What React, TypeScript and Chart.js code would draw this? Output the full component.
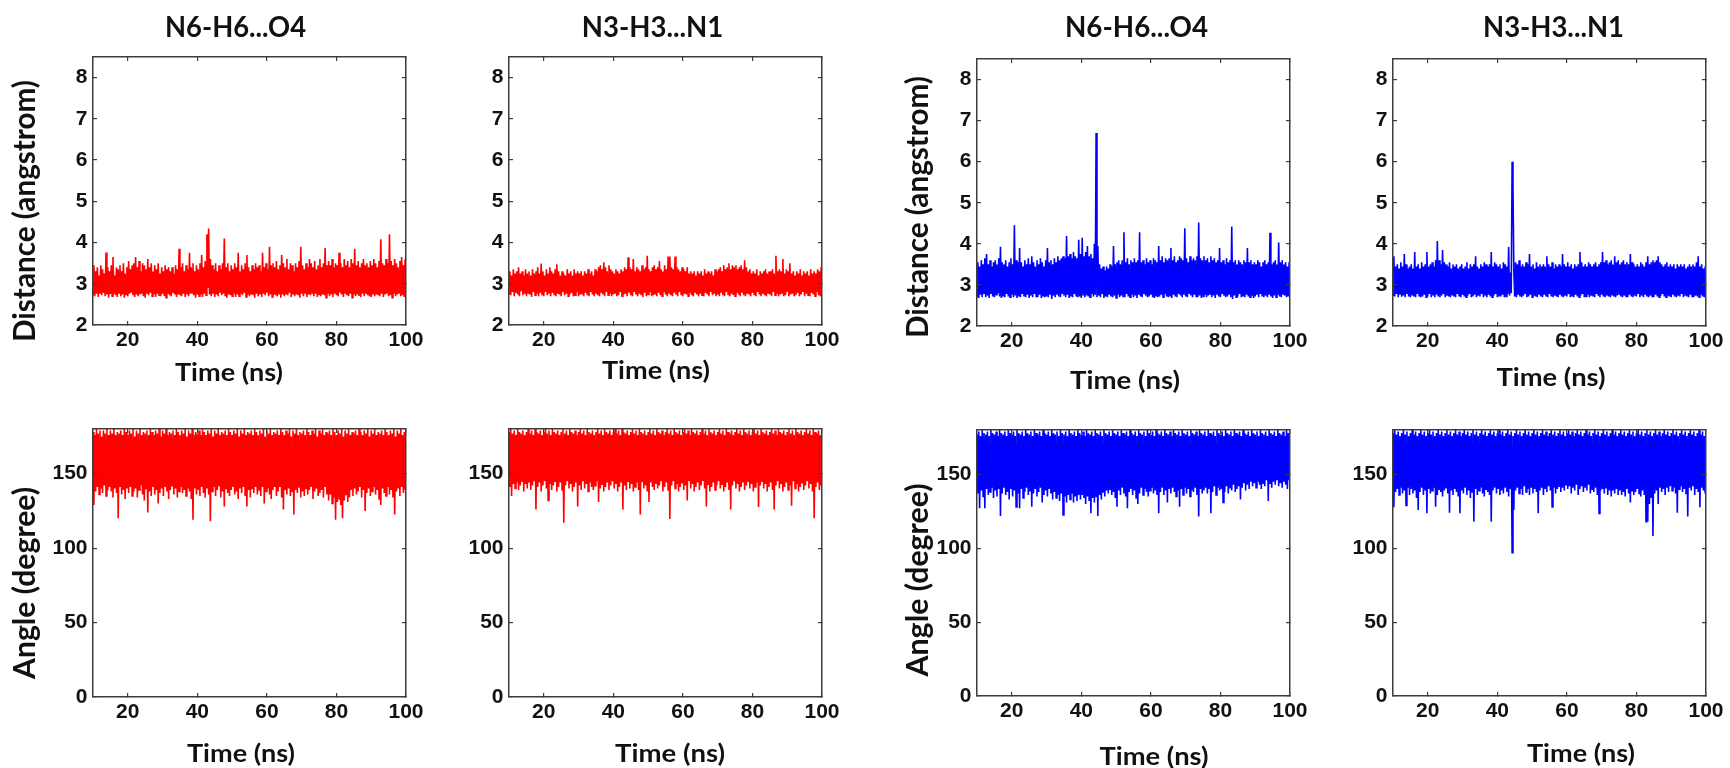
import React, { useEffect, useRef } from 'react';
import { Chart, registerables } from 'chart.js';

Chart.register(...registerables);

// ---------- data ----------
const T_START = 10; // ns, first sample
const T_STEP = 0.25; // ns between samples
const X_TICKS = [20, 40, 60, 80, 100];
const DIST_TICKS = [2, 3, 4, 5, 6, 7, 8];
const ANGLE_TICKS = [0, 50, 100, 150];

const TITLE_N6 = 'N6-H6...O4';
const TITLE_N3 = 'N3-H3...N1';
const X_LABEL = 'Time (ns)';
const DIST_LABEL = 'Distance (angstrom)';
const ANGLE_LABEL = 'Angle (degree)';

// Distance (angstrom), red system, N6-H6...O4
const DIST_RED_N6 = [
  2.74, 3.45, 2.7, 3.3, 2.76, 3.4, 2.68, 3.2, 2.76, 3.45,
  2.72, 3.35, 2.78, 3.25, 2.7, 3.76, 2.74, 3.4, 2.66, 3.3,
  2.75, 3.45, 2.7, 3.65, 2.76, 3.2, 2.72, 3.4, 2.68, 3.35,
  2.78, 3.45, 2.7, 3.3, 2.74, 3.5, 2.66, 3.25, 2.74, 3.4,
  2.7, 3.55, 2.76, 3.35, 2.78, 3.45, 2.72, 3.5, 2.68, 3.65,
  2.74, 3.4, 2.7, 3.55, 2.74, 3.3, 2.76, 3.5, 2.7, 3.45,
  2.66, 3.35, 2.76, 3.6, 2.72, 3.4, 2.78, 3.5, 2.7, 3.3,
  2.74, 3.45, 2.68, 3.35, 2.76, 3.5, 2.72, 3.25, 2.7, 3.4,
  2.76, 3.3, 2.7, 3.45, 2.66, 3.35, 2.76, 3.4, 2.72, 3.3,
  2.7, 3.4, 2.78, 3.25, 2.74, 3.45, 2.68, 3.35, 2.74, 3.85,
  2.72, 3.4, 2.7, 3.5, 2.76, 3.3, 2.68, 3.45, 2.74, 3.35,
  2.7, 3.75, 2.76, 3.4, 2.78, 3.5, 2.72, 3.3, 2.66, 3.45,
  2.74, 3.35, 2.7, 3.5, 2.74, 3.7, 2.68, 3.4, 2.76, 3.55,
  2.72, 4.2, 2.9, 4.34, 2.74, 3.6, 2.7, 3.45, 2.76, 3.35,
  2.68, 3.5, 2.74, 3.3, 2.7, 3.45, 2.78, 3.35, 2.72, 3.5,
  2.76, 4.1, 2.7, 3.4, 2.66, 3.5, 2.74, 3.3, 2.72, 3.45,
  2.7, 3.35, 2.76, 3.5, 2.68, 3.4, 2.74, 3.75, 2.7, 3.3,
  2.76, 3.45, 2.72, 3.35, 2.78, 3.5, 2.68, 3.7, 2.74, 3.4,
  2.7, 3.3, 2.74, 3.45, 2.72, 3.35, 2.66, 3.5, 2.76, 3.4,
  2.7, 3.45, 2.74, 3.3, 2.68, 3.75, 2.76, 3.4, 2.72, 3.5,
  2.78, 3.35, 2.7, 3.9, 2.74, 3.45, 2.68, 3.5, 2.74, 3.4,
  2.72, 3.55, 2.7, 3.35, 2.76, 3.45, 2.66, 3.7, 2.74, 3.5,
  2.7, 3.4, 2.76, 3.6, 2.72, 3.35, 2.78, 3.5, 2.68, 3.45,
  2.74, 3.3, 2.7, 3.5, 2.74, 3.4, 2.72, 3.55, 2.66, 3.9,
  2.76, 3.45, 2.7, 3.35, 2.76, 3.5, 2.68, 3.4, 2.74, 3.6,
  2.72, 3.5, 2.78, 3.4, 2.7, 3.55, 2.76, 3.35, 2.68, 3.45,
  2.74, 3.6, 2.7, 3.4, 2.74, 3.5, 2.72, 3.87, 2.66, 3.45,
  2.76, 3.55, 2.7, 3.45, 2.74, 3.6, 2.68, 3.4, 2.76, 3.5,
  2.72, 3.45, 2.7, 3.75, 2.78, 3.5, 2.74, 3.4, 2.68, 3.6,
  2.76, 3.45, 2.72, 3.55, 2.7, 3.4, 2.76, 3.6, 2.66, 3.5,
  2.74, 3.85, 2.7, 3.45, 2.74, 3.55, 2.72, 3.4, 2.68, 3.5,
  2.76, 3.6, 2.7, 3.45, 2.78, 3.5, 2.72, 3.4, 2.7, 3.55,
  2.68, 3.45, 2.74, 3.6, 2.7, 3.5, 2.74, 3.4, 2.72, 3.55,
  2.7, 4.08, 2.76, 3.5, 2.68, 3.45, 2.74, 3.6, 2.76, 3.5,
  2.7, 4.2, 2.72, 3.55, 2.66, 3.45, 2.76, 3.6, 2.7, 3.5,
  2.74, 3.4, 2.78, 3.55, 2.7, 3.65, 2.72, 3.45, 2.68, 3.6,
  2.75,
];

// Distance (angstrom), red system, N3-H3...N1
const DIST_RED_N3 = [
  2.76, 3.3, 2.72, 3.2, 2.8, 3.35, 2.7, 3.25, 2.78, 3.3,
  2.74, 3.4, 2.7, 3.25, 2.82, 3.3, 2.72, 3.2, 2.76, 3.35,
  2.7, 3.25, 2.78, 3.3, 2.74, 3.2, 2.68, 3.35, 2.8, 3.25,
  2.72, 3.3, 2.76, 3.4, 2.7, 3.25, 2.78, 3.49, 2.74, 3.3,
  2.7, 3.2, 2.8, 3.35, 2.72, 3.25, 2.76, 3.4, 2.7, 3.3,
  2.78, 3.25, 2.72, 3.35, 2.7, 3.47, 2.76, 3.3, 2.74, 3.2,
  2.7, 3.3, 2.8, 3.25, 2.72, 3.2, 2.76, 3.35, 2.7, 3.25,
  2.74, 3.3, 2.78, 3.2, 2.7, 3.35, 2.72, 3.25, 2.8, 3.3,
  2.7, 3.25, 2.74, 3.3, 2.76, 3.2, 2.7, 3.3, 2.78, 3.25,
  2.72, 3.35, 2.7, 3.25, 2.8, 3.3, 2.74, 3.2, 2.7, 3.35,
  2.76, 3.3, 2.72, 3.4, 2.7, 3.45, 2.78, 3.35, 2.74, 3.52,
  2.7, 3.4, 2.8, 3.3, 2.72, 3.45, 2.76, 3.35, 2.7, 3.3,
  2.74, 3.25, 2.78, 3.35, 2.7, 3.3, 2.72, 3.25, 2.8, 3.35,
  2.7, 3.3, 2.74, 3.4, 2.76, 3.35, 2.7, 3.64, 2.78, 3.4,
  2.72, 3.35, 2.7, 3.6, 2.8, 3.3, 2.74, 3.4, 2.7, 3.35,
  2.76, 3.3, 2.72, 3.45, 2.68, 3.35, 2.78, 3.4, 2.7, 3.68,
  2.74, 3.35, 2.8, 3.3, 2.7, 3.4, 2.72, 3.45, 2.76, 3.35,
  2.7, 3.4, 2.78, 3.55, 2.72, 3.35, 2.7, 3.3, 2.8, 3.45,
  2.74, 3.35, 2.7, 3.66, 2.76, 3.66, 2.72, 3.4, 2.7, 3.35,
  2.78, 3.66, 2.74, 3.4, 2.7, 3.35, 2.8, 3.3, 2.72, 3.4,
  2.7, 3.35, 2.76, 3.3, 2.74, 3.4, 2.7, 3.25, 2.78, 3.3,
  2.72, 3.25, 2.7, 3.3, 2.8, 3.2, 2.74, 3.3, 2.7, 3.25,
  2.76, 3.3, 2.72, 3.2, 2.7, 3.35, 2.78, 3.25, 2.74, 3.3,
  2.7, 3.25, 2.8, 3.3, 2.72, 3.2, 2.76, 3.35, 2.7, 3.3,
  2.74, 3.35, 2.7, 3.4, 2.78, 3.3, 2.72, 3.45, 2.7, 3.35,
  2.8, 3.4, 2.74, 3.5, 2.7, 3.35, 2.76, 3.45, 2.72, 3.4,
  2.7, 3.45, 2.78, 3.35, 2.74, 3.4, 2.7, 3.45, 2.8, 3.35,
  2.72, 3.57, 2.7, 3.4, 2.76, 3.3, 2.74, 3.35, 2.7, 3.25,
  2.78, 3.3, 2.72, 3.25, 2.7, 3.35, 2.8, 3.2, 2.74, 3.3,
  2.7, 3.25, 2.76, 3.3, 2.72, 3.35, 2.7, 3.25, 2.78, 3.3,
  2.74, 3.3, 2.7, 3.35, 2.8, 3.25, 2.72, 3.68, 2.76, 3.3,
  2.7, 3.35, 2.74, 3.3, 2.78, 3.6, 2.7, 3.25, 2.72, 3.35,
  2.8, 3.3, 2.7, 3.5, 2.74, 3.25, 2.76, 3.3, 2.7, 3.2,
  2.72, 3.3, 2.78, 3.25, 2.7, 3.35, 2.74, 3.2, 2.8, 3.3,
  2.7, 3.25, 2.76, 3.3, 2.72, 3.2, 2.7, 3.35, 2.78, 3.25,
  2.74, 3.3, 2.7, 3.25, 2.8, 3.35, 2.72, 3.3, 2.7, 3.4,
  2.76,
];

// Distance (angstrom), blue system, N6-H6...O4
const DIST_BLUE_N6 = [
  2.72, 3.55, 2.68, 3.45, 2.76, 3.6, 2.7, 3.5, 2.78, 3.65,
  2.7, 3.75, 2.74, 3.5, 2.68, 3.6, 2.78, 3.45, 2.72, 3.55,
  2.7, 3.6, 2.76, 3.5, 2.8, 3.65, 2.72, 3.93, 2.68, 3.55,
  2.74, 3.5, 2.7, 3.6, 2.78, 3.45, 2.72, 3.55, 2.7, 3.65,
  2.76, 3.5, 2.7, 4.45, 2.74, 3.6, 2.68, 3.55, 2.72, 3.9,
  2.7, 3.55, 2.78, 3.45, 2.72, 3.6, 2.7, 3.5, 2.76, 3.65,
  2.68, 3.5, 2.74, 3.7, 2.7, 3.55, 2.78, 3.45, 2.72, 3.6,
  2.7, 3.5, 2.76, 3.65, 2.68, 3.55, 2.74, 3.45, 2.7, 3.6,
  2.72, 3.9, 2.7, 3.55, 2.78, 3.6, 2.66, 3.5, 2.74, 3.65,
  2.7, 3.55, 2.76, 3.7, 2.72, 3.6, 2.7, 3.65, 2.78, 3.7,
  2.74, 3.65, 2.7, 4.19, 2.76, 3.7, 2.68, 3.75, 2.72, 3.65,
  2.7, 3.8, 2.78, 3.7, 2.74, 3.65, 2.7, 4.1, 2.72, 3.75,
  2.68, 4.15, 2.76, 3.7, 2.7, 3.8, 2.74, 3.95, 2.72, 3.7,
  2.7, 3.75, 2.78, 3.65, 2.72, 4.0, 2.76, 6.7, 2.7, 3.95,
  2.74, 3.5, 2.7, 3.4, 2.78, 3.45, 2.68, 3.35, 2.72, 3.45,
  2.7, 3.4, 2.76, 3.5, 2.72, 3.45, 2.7, 3.95, 2.74, 3.5,
  2.68, 3.55, 2.76, 3.6, 2.7, 3.5, 2.74, 3.6, 2.72, 4.28,
  2.7, 3.55, 2.78, 3.65, 2.72, 3.5, 2.7, 3.6, 2.76, 3.55,
  2.7, 3.65, 2.74, 3.55, 2.68, 3.6, 2.76, 4.28, 2.72, 3.55,
  2.7, 3.6, 2.78, 3.5, 2.74, 3.65, 2.7, 3.55, 2.72, 3.6,
  2.76, 3.5, 2.7, 3.65, 2.68, 3.6, 2.74, 3.55, 2.7, 3.95,
  2.72, 3.6, 2.76, 3.7, 2.7, 3.55, 2.78, 3.65, 2.72, 3.6,
  2.7, 3.65, 2.74, 3.9, 2.68, 3.6, 2.76, 3.7, 2.72, 3.55,
  2.7, 3.6, 2.78, 3.7, 2.74, 3.65, 2.7, 3.6, 2.76, 4.38,
  2.72, 3.65, 2.7, 3.55, 2.78, 3.7, 2.74, 3.6, 2.7, 3.65,
  2.76, 3.6, 2.72, 3.7, 2.7, 4.52, 2.74, 3.65, 2.68, 3.6,
  2.72, 3.7, 2.76, 3.6, 2.7, 3.65, 2.74, 3.55, 2.78, 3.7,
  2.7, 3.6, 2.74, 3.65, 2.68, 3.55, 2.76, 3.6, 2.72, 3.9,
  2.7, 3.55, 2.78, 3.6, 2.74, 3.5, 2.7, 3.65, 2.72, 3.55,
  2.76, 3.6, 2.7, 4.42, 2.66, 3.55, 2.74, 3.6, 2.7, 3.5,
  2.72, 3.6, 2.78, 3.55, 2.7, 3.5, 2.74, 3.6, 2.7, 3.55,
  2.76, 3.9, 2.72, 3.55, 2.7, 3.6, 2.74, 3.5, 2.68, 3.55,
  2.72, 3.5, 2.76, 3.6, 2.7, 3.55, 2.78, 3.45, 2.72, 3.55,
  2.7, 3.6, 2.74, 3.5, 2.7, 3.55, 2.76, 4.27, 2.72, 3.5,
  2.68, 3.55, 2.74, 3.6, 2.7, 3.5, 2.76, 4.03, 2.72, 3.55,
  2.7, 3.6, 2.78, 3.5, 2.74, 3.55, 2.7, 3.45, 2.72, 3.55,
  2.74,
];

// Distance (angstrom), blue system, N3-H3...N1
const DIST_BLUE_N3 = [
  2.75, 3.7, 2.72, 3.45, 2.78, 3.5, 2.7, 3.4, 2.76, 3.55,
  2.71, 3.45, 2.74, 3.75, 2.7, 3.5, 2.78, 3.4, 2.72, 3.45,
  2.7, 3.5, 2.76, 3.4, 2.72, 3.8, 2.7, 3.45, 2.78, 3.5,
  2.74, 3.4, 2.7, 3.55, 2.72, 3.45, 2.76, 3.5, 2.7, 3.8,
  2.72, 3.45, 2.78, 3.5, 2.7, 3.55, 2.74, 3.45, 2.7, 3.6,
  2.76, 4.07, 2.72, 3.6, 2.7, 3.5, 2.74, 3.85, 2.78, 3.55,
  2.7, 3.5, 2.74, 3.45, 2.72, 3.55, 2.7, 3.4, 2.76, 3.5,
  2.72, 3.45, 2.7, 3.5, 2.78, 3.4, 2.74, 3.45, 2.7, 3.5,
  2.76, 3.4, 2.72, 3.45, 2.7, 3.55, 2.74, 3.4, 2.78, 3.5,
  2.7, 3.45, 2.72, 3.5, 2.76, 3.7, 2.7, 3.45, 2.74, 3.4,
  2.72, 3.5, 2.78, 3.45, 2.7, 3.55, 2.74, 3.5, 2.7, 3.45,
  2.76, 3.5, 2.72, 3.8, 2.7, 3.45, 2.74, 3.55, 2.78, 3.5,
  2.7, 3.45, 2.74, 3.5, 2.72, 3.4, 2.76, 3.55, 2.7, 3.5,
  2.72, 3.45, 2.78, 3.92, 2.74, 3.3, 2.8, 6.0, 5.4, 3.3,
  2.72, 3.55, 2.7, 3.5, 2.76, 3.6, 2.72, 3.45, 2.7, 3.5,
  2.74, 3.45, 2.78, 3.55, 2.7, 3.5, 2.72, 3.75, 2.76, 3.45,
  2.7, 3.5, 2.74, 3.4, 2.72, 3.55, 2.7, 3.45, 2.78, 3.5,
  2.72, 3.45, 2.7, 3.5, 2.76, 3.45, 2.74, 3.7, 2.7, 3.5,
  2.78, 3.45, 2.72, 3.55, 2.7, 3.4, 2.74, 3.5, 2.72, 3.45,
  2.7, 3.5, 2.76, 3.45, 2.72, 3.75, 2.7, 3.5, 2.74, 3.45,
  2.72, 3.55, 2.78, 3.45, 2.7, 3.5, 2.74, 3.4, 2.7, 3.5,
  2.76, 3.45, 2.72, 3.5, 2.7, 3.8, 2.74, 3.55, 2.78, 3.45,
  2.7, 3.5, 2.72, 3.45, 2.76, 3.55, 2.7, 3.5, 2.74, 3.45,
  2.72, 3.5, 2.7, 3.55, 2.78, 3.45, 2.74, 3.5, 2.7, 3.55,
  2.76, 3.8, 2.72, 3.55, 2.7, 3.6, 2.74, 3.5, 2.72, 3.55,
  2.7, 3.6, 2.76, 3.5, 2.72, 3.7, 2.7, 3.55, 2.74, 3.6,
  2.78, 3.5, 2.72, 3.55, 2.7, 3.6, 2.74, 3.5, 2.72, 3.55,
  2.7, 3.5, 2.76, 3.75, 2.72, 3.55, 2.7, 3.5, 2.74, 3.45,
  2.72, 3.5, 2.78, 3.45, 2.7, 3.55, 2.74, 3.5, 2.7, 3.45,
  2.76, 3.55, 2.72, 3.7, 2.7, 3.5, 2.74, 3.55, 2.72, 3.6,
  2.7, 3.55, 2.76, 3.6, 2.72, 3.7, 2.7, 3.55, 2.74, 3.5,
  2.78, 3.45, 2.72, 3.5, 2.7, 3.55, 2.74, 3.45, 2.72, 3.5,
  2.7, 3.45, 2.76, 3.5, 2.72, 3.4, 2.7, 3.5, 2.74, 3.45,
  2.72, 3.5, 2.78, 3.45, 2.7, 3.5, 2.74, 3.4, 2.72, 3.45,
  2.7, 3.5, 2.76, 3.45, 2.72, 3.5, 2.7, 3.45, 2.74, 3.55,
  2.72, 3.7, 2.7, 3.45, 2.76, 3.5, 2.72, 3.4, 2.7, 3.45,
  2.74,
];

// Angle (degree), red system, N6-H6...O4
const ANGLE_RED_N6 = [
  178, 129, 176, 138, 180, 141, 177, 136, 179, 140,
  175, 137, 179, 142, 177, 135, 180, 139, 176, 141,
  179, 138, 177, 134, 180, 140, 176, 137, 178, 120,
  177, 141, 179, 136, 176, 139, 180, 133, 178, 140,
  176, 137, 179, 141, 177, 135, 180, 138, 175, 140,
  179, 134, 177, 139, 180, 142, 176, 136, 178, 132,
  177, 140, 179, 124, 176, 138, 180, 135, 178, 141,
  176, 136, 179, 139, 177, 130, 180, 137, 175, 140,
  179, 135, 177, 141, 180, 138, 176, 133, 178, 139,
  177, 142, 179, 136, 176, 140, 180, 134, 178, 138,
  176, 141, 179, 137, 177, 139, 180, 135, 175, 140,
  179, 138, 177, 133, 180, 119, 176, 140, 178, 136,
  177, 139, 179, 135, 176, 141, 180, 137, 178, 134,
  176, 140, 179, 136, 177, 118, 180, 138, 175, 141,
  179, 135, 177, 139, 180, 142, 176, 134, 178, 138,
  177, 128, 179, 140, 176, 137, 180, 135, 178, 139,
  176, 141, 179, 136, 177, 138, 180, 133, 175, 140,
  179, 137, 177, 141, 180, 135, 176, 128, 178, 139,
  177, 134, 179, 140, 176, 137, 180, 141, 178, 136,
  176, 139, 179, 135, 177, 141, 180, 130, 175, 138,
  179, 140, 177, 136, 180, 133, 176, 139, 178, 141,
  177, 135, 179, 138, 176, 141, 180, 134, 178, 126,
  176, 139, 179, 136, 177, 140, 180, 135, 175, 138,
  179, 122.5, 177, 139, 180, 137, 176, 141, 178, 134,
  177, 138, 179, 135, 176, 140, 180, 136, 178, 139,
  176, 141, 179, 133, 177, 138, 180, 140, 175, 135,
  179, 137, 177, 139, 180, 134, 176, 141, 178, 136,
  177, 132, 179, 136, 176, 130, 180, 134, 178, 119,
  176, 131, 179, 133, 177, 129, 180, 120, 175, 132,
  179, 136, 177, 131, 180, 134, 176, 139, 178, 135,
  177, 140, 179, 136, 176, 138, 180, 141, 178, 134,
  176, 139, 179, 125, 177, 137, 180, 140, 175, 135,
  179, 138, 177, 141, 180, 136, 176, 139, 178, 133,
  177, 129, 179, 140, 176, 137, 180, 135, 178, 141,
  176, 136, 179, 139, 177, 134, 180, 122.5, 175, 138,
  179, 140, 177, 135, 180, 141, 176, 137, 178, 139,
  177,
];

// Angle (degree), red system, N3-H3...N1
const ANGLE_RED_N3 = [
  178, 141, 180, 135, 177, 143, 179, 140, 176, 144,
  180, 139, 178, 142, 177, 145, 179, 138, 176, 143,
  178, 140, 180, 144, 177, 139, 179, 142, 176, 145,
  180, 126, 178, 141, 177, 144, 179, 138, 176, 142,
  178, 145, 180, 140, 177, 132, 179, 143, 176, 139,
  180, 142, 178, 145, 177, 138, 179, 141, 176, 144,
  178, 139, 180, 117, 177, 142, 179, 145, 176, 140,
  180, 143, 178, 138, 177, 141, 179, 144, 176, 128,
  178, 142, 180, 139, 177, 145, 179, 140, 176, 143,
  180, 138, 178, 144, 177, 141, 179, 139, 176, 142,
  178, 145, 180, 131, 177, 140, 179, 143, 176, 138,
  180, 141, 178, 144, 177, 139, 179, 142, 176, 145,
  178, 140, 180, 143, 177, 138, 179, 141, 176, 144,
  180, 126, 178, 142, 177, 139, 179, 145, 176, 140,
  178, 143, 180, 138, 177, 141, 179, 144, 176, 139,
  180, 122.5, 178, 145, 177, 140, 179, 142, 176, 138,
  178, 131, 180, 144, 177, 141, 179, 139, 176, 143,
  180, 140, 178, 142, 177, 145, 179, 138, 176, 141,
  178, 144, 180, 139, 177, 119.5, 179, 142, 176, 145,
  180, 140, 178, 143, 177, 138, 179, 141, 176, 144,
  178, 139, 180, 142, 177, 132, 179, 145, 176, 140,
  180, 143, 178, 138, 177, 141, 179, 144, 176, 139,
  178, 142, 180, 145, 177, 140, 179, 128, 176, 143,
  180, 138, 178, 141, 177, 144, 179, 139, 176, 142,
  178, 145, 180, 140, 177, 143, 179, 138, 176, 141,
  180, 144, 178, 139, 177, 126, 179, 142, 176, 145,
  178, 140, 180, 143, 177, 138, 179, 141, 176, 144,
  180, 139, 178, 142, 177, 145, 179, 140, 176, 143,
  178, 138, 180, 141, 177, 144, 179, 127.6, 176, 142,
  180, 145, 178, 140, 177, 143, 179, 138, 176, 141,
  178, 144, 180, 139, 177, 126, 179, 142, 176, 145,
  180, 140, 178, 143, 177, 138, 179, 141, 176, 144,
  178, 139, 180, 142, 177, 128.5, 179, 145, 176, 140,
  180, 143, 178, 138, 177, 141, 179, 144, 176, 139,
  178, 142, 180, 145, 177, 140, 179, 143, 176, 138,
  180, 120, 178, 141, 177, 144, 179, 139, 176, 142,
  178,
];

// Angle (degree), blue system, N6-H6...O4
const ANGLE_BLUE_N6 = [
  177, 137, 179, 127, 176, 139, 180, 135, 178, 127,
  177, 140, 179, 136, 176, 138, 180, 141, 178, 134,
  177, 139, 179, 135, 176, 140, 180, 121.8, 178, 137,
  177, 141, 179, 136, 176, 138, 180, 133, 178, 140,
  177, 135, 179, 139, 176, 128, 180, 137, 178, 127,
  177, 140, 179, 134, 176, 138, 180, 141, 178, 136,
  177, 139, 179, 128, 176, 137, 180, 140, 178, 135,
  177, 138, 179, 141, 176, 131, 180, 136, 178, 139,
  177, 135, 179, 140, 176, 137, 180, 133, 178, 138,
  177, 134, 179, 136, 176, 132, 180, 137, 178, 122.5,
  177, 135, 179, 131, 176, 136, 180, 133, 178, 137,
  177, 131, 179, 135, 176, 132, 180, 136, 178, 133,
  177, 136, 179, 134, 176, 130, 180, 135, 178, 132,
  177, 123.6, 179, 134, 176, 131, 180, 135, 178, 121.8,
  177, 136, 179, 133, 176, 138, 180, 135, 178, 139,
  177, 137, 179, 140, 176, 136, 180, 138, 178, 134,
  177, 128, 179, 139, 176, 136, 180, 141, 178, 137,
  177, 135, 179, 127, 176, 138, 180, 140, 178, 136,
  177, 139, 179, 134, 176, 130, 180, 137, 178, 141,
  177, 136, 179, 140, 176, 138, 180, 135, 178, 139,
  177, 141, 179, 137, 176, 139, 180, 136, 178, 123.6,
  177, 138, 179, 141, 176, 136, 180, 139, 178, 131,
  177, 140, 179, 137, 176, 141, 180, 138, 178, 135,
  177, 139, 179, 128, 176, 140, 180, 136, 178, 141,
  177, 137, 179, 140, 176, 135, 180, 139, 178, 138,
  177, 141, 179, 136, 176, 121.4, 180, 140, 178, 137,
  177, 139, 179, 141, 176, 137, 180, 140, 178, 123.6,
  177, 138, 179, 142, 176, 136, 180, 141, 178, 139,
  177, 140, 179, 131, 176, 138, 180, 142, 178, 137,
  177, 141, 179, 139, 176, 143, 180, 138, 178, 140,
  177, 142, 179, 133, 176, 141, 180, 144, 178, 139,
  177, 143, 179, 140, 176, 145, 180, 142, 178, 144,
  177, 141, 179, 145, 176, 143, 180, 140, 178, 144,
  177, 142, 179, 146, 176, 132, 180, 144, 178, 141,
  177, 145, 179, 143, 176, 146, 180, 142, 178, 144,
  177, 141, 179, 145, 176, 143, 180, 140, 178, 146,
  177,
];

// Angle (degree), blue system, N3-H3...N1
const ANGLE_BLUE_N3 = [
  178, 127.7, 180, 138, 177, 140, 179, 136, 176, 141,
  178, 137, 180, 139, 177, 129, 179, 141, 176, 136,
  178, 140, 180, 137, 177, 139, 179, 134, 176, 125.9,
  178, 138, 180, 141, 177, 136, 179, 139, 176, 123.6,
  178, 140, 180, 137, 177, 139, 179, 141, 176, 128,
  178, 136, 180, 140, 177, 138, 179, 135, 176, 139,
  178, 141, 180, 137, 177, 124, 179, 139, 176, 136,
  178, 140, 180, 138, 177, 135, 179, 123.6, 176, 139,
  178, 137, 180, 141, 177, 136, 179, 139, 176, 134,
  178, 138, 180, 118, 177, 140, 179, 136, 176, 139,
  178, 141, 180, 137, 177, 135, 179, 140, 176, 138,
  178, 136, 180, 118, 177, 139, 179, 141, 176, 137,
  178, 140, 180, 136, 177, 139, 179, 137, 176, 141,
  178, 138, 180, 135, 177, 140, 179, 97, 176, 126,
  178, 139, 180, 141, 177, 137, 179, 140, 176, 136,
  178, 142, 180, 138, 177, 140, 179, 136, 176, 141,
  178, 137, 180, 140, 177, 138, 179, 123.6, 176, 139,
  178, 141, 180, 136, 177, 140, 179, 138, 176, 142,
  178, 139, 180, 128, 177, 141, 179, 137, 176, 140,
  178, 142, 180, 138, 177, 141, 179, 139, 176, 143,
  178, 140, 180, 142, 177, 137, 179, 141, 176, 139,
  178, 143, 180, 136, 177, 140, 179, 142, 176, 138,
  178, 141, 180, 139, 177, 143, 179, 137, 176, 140,
  178, 138, 180, 141, 177, 136, 179, 123.6, 176, 139,
  178, 140, 180, 137, 177, 141, 179, 136, 176, 139,
  178, 135, 180, 139, 177, 137, 179, 140, 176, 136,
  178, 139, 180, 136, 177, 138, 179, 135, 176, 140,
  178, 137, 180, 131, 177, 139, 179, 136, 176, 138,
  178, 140, 180, 137, 177, 135, 179, 139, 176, 136,
  178, 118, 180, 118, 177, 130, 179, 134, 176, 108.3,
  178, 137, 180, 139, 177, 130, 179, 141, 176, 138,
  178, 140, 180, 136, 177, 141, 179, 138, 176, 142,
  178, 139, 180, 141, 177, 137, 179, 124, 176, 140,
  178, 142, 180, 138, 177, 140, 179, 137, 176, 121.4,
  178, 141, 180, 139, 177, 142, 179, 136, 176, 140,
  178, 138, 180, 127.7, 177, 141, 179, 139, 176, 137,
  177,
];

// ---------- styling / layout ----------
const RED = '#ff0000';
const BLUE = '#0000ff';
const AXIS_COLOR = '#3c3c3c';
const TEXT_COLOR = '#111111';
const LABEL_FONT = 'Lato, "Open Sans", sans-serif';
const TICK_FONT_FAMILY = '"Liberation Sans", Arial, sans-serif';

const Y_AXIS_W = 40;
const X_AXIS_H = 30;
const LEFT_EXTRA = 95;
const RIGHT_EXTRA = 30;
const ROWS = [
  { top: 0, height: 400 },
  { top: 400, height: 368 },
];

type Lbl = { text: string; x: number; y: number; size: number; w: number; rotate?: boolean };
type PanelCfg = {
  row: number;
  plot: { l: number; t: number; r: number; b: number };
  kind: 'dist' | 'angle';
  color: string;
  values: number[];
  labels: Lbl[];
};

const PANELS: PanelCfg[] = [
  {
    row: 0, plot: { l: 93, t: 57, r: 406, b: 325 }, kind: 'dist', color: RED, values: DIST_RED_N6,
    labels: [
      { text: TITLE_N6, x: 235.5, y: 36.5, size: 28, w: 141 },
      { text: X_LABEL, x: 229, y: 380.5, size: 25, w: 108 },
      { text: DIST_LABEL, x: 35, y: 211, size: 30, w: 262, rotate: true },
    ],
  },
  {
    row: 0, plot: { l: 509, t: 57, r: 822, b: 325 }, kind: 'dist', color: RED, values: DIST_RED_N3,
    labels: [
      { text: TITLE_N3, x: 652.5, y: 36.7, size: 28, w: 141.5 },
      { text: X_LABEL, x: 656, y: 379, size: 25, w: 108 },
    ],
  },
  {
    row: 0, plot: { l: 977, t: 59, r: 1290, b: 326 }, kind: 'dist', color: BLUE, values: DIST_BLUE_N6,
    labels: [
      { text: TITLE_N6, x: 1136.5, y: 36.7, size: 28, w: 143 },
      { text: X_LABEL, x: 1125, y: 389, size: 25, w: 110 },
      { text: DIST_LABEL, x: 928.3, y: 207, size: 30, w: 262, rotate: true },
    ],
  },
  {
    row: 0, plot: { l: 1393, t: 59, r: 1706, b: 326 }, kind: 'dist', color: BLUE, values: DIST_BLUE_N3,
    labels: [
      { text: TITLE_N3, x: 1553.5, y: 36.7, size: 28, w: 141 },
      { text: X_LABEL, x: 1551, y: 385.5, size: 25, w: 109 },
    ],
  },
  {
    row: 1, plot: { l: 93, t: 429, r: 406, b: 697 }, kind: 'angle', color: RED, values: ANGLE_RED_N6,
    labels: [
      { text: X_LABEL, x: 241, y: 762, size: 25, w: 108 },
      { text: ANGLE_LABEL, x: 35, y: 583, size: 30, w: 192, rotate: true },
    ],
  },
  {
    row: 1, plot: { l: 509, t: 429, r: 822, b: 697 }, kind: 'angle', color: RED, values: ANGLE_RED_N3,
    labels: [{ text: X_LABEL, x: 670, y: 762, size: 25, w: 110 }],
  },
  {
    row: 1, plot: { l: 977, t: 430, r: 1290, b: 696 }, kind: 'angle', color: BLUE, values: ANGLE_BLUE_N6,
    labels: [
      { text: X_LABEL, x: 1154, y: 765, size: 25, w: 109 },
      { text: ANGLE_LABEL, x: 928.3, y: 580, size: 30, w: 193, rotate: true },
    ],
  },
  {
    row: 1, plot: { l: 1393, t: 430, r: 1706, b: 696 }, kind: 'angle', color: BLUE, values: ANGLE_BLUE_N3,
    labels: [{ text: X_LABEL, x: 1581, y: 762, size: 25, w: 108 }],
  },
];

function Panel({ cfg }: { cfg: PanelCfg }) {
  const ref = useRef<HTMLCanvasElement | null>(null);
  const { l, t, r, b } = cfg.plot;
  const row = ROWS[cfg.row];
  const cLeft = l - LEFT_EXTRA;
  const cTop = row.top;
  const cWidth = r - l + LEFT_EXTRA + RIGHT_EXTRA;
  const cHeight = row.height;

  useEffect(() => {
    if (!ref.current) return;
    const isDist = cfg.kind === 'dist';
    const yMin = isDist ? 2 : 0;
    const yMax = isDist ? 8.5 : 180;
    const yTicks = isDist ? DIST_TICKS : ANGLE_TICKS;
    const points = cfg.values.map((v, i) => ({ x: T_START + i * T_STEP, y: v }));

    const border = { display: true, color: AXIS_COLOR, width: 1.5, z: 1 };
    const grid = {
      drawOnChartArea: false,
      drawTicks: true,
      tickLength: -4,
      color: AXIS_COLOR,
      tickColor: AXIS_COLOR,
      lineWidth: 1.2,
      z: 1,
    };
    const tickFont = { family: TICK_FONT_FAMILY, size: 21, weight: 'bold' as const };

    const labelPlugin = {
      id: 'panelLabels',
      afterDraw(chart: Chart) {
        const ctx = chart.ctx;
        for (const lb of cfg.labels) {
          ctx.save();
          ctx.font = `bold ${lb.size}px ${LABEL_FONT}`;
          ctx.fillStyle = TEXT_COLOR;
          ctx.textAlign = 'center';
          ctx.textBaseline = 'alphabetic';
          ctx.translate(lb.x - cLeft, lb.y - cTop);
          if (lb.rotate) ctx.rotate(-Math.PI / 2);
          const mw = ctx.measureText(lb.text).width;
          if (mw > 0) ctx.scale(lb.w / mw, 1);
          ctx.fillText(lb.text, 0, 0);
          ctx.restore();
        }
      },
    };

    const chart = new Chart(ref.current, {
      type: 'line',
      data: {
        datasets: [
          {
            data: points,
            borderColor: cfg.color,
            backgroundColor: cfg.color,
            borderWidth: 1.6,
            pointRadius: 0,
            tension: 0,
            fill: false,
          },
        ],
      },
      options: {
        animation: false,
        responsive: false,
        events: [],
        layout: {
          padding: {
            left: LEFT_EXTRA - Y_AXIS_W,
            right: RIGHT_EXTRA,
            top: t - cTop,
            bottom: cTop + cHeight - b - X_AXIS_H,
          },
        },
        plugins: { legend: { display: false }, tooltip: { enabled: false }, title: { display: false } },
        scales: {
          x: {
            type: 'linear',
            position: 'bottom',
            min: 10,
            max: 100,
            border,
            grid,
            afterBuildTicks: (s: any) => {
              s.ticks = X_TICKS.map((v) => ({ value: v }));
            },
            afterFit: (s: any) => {
              s.height = X_AXIS_H;
            },
            ticks: { font: tickFont, color: TEXT_COLOR, padding: 7, autoSkip: false, maxRotation: 0 },
          },
          xTop: {
            type: 'linear',
            position: 'top',
            min: 10,
            max: 100,
            border,
            grid,
            afterBuildTicks: (s: any) => {
              s.ticks = X_TICKS.map((v) => ({ value: v }));
            },
            afterFit: (s: any) => {
              s.height = 0;
            },
            ticks: { display: false },
          },
          y: {
            type: 'linear',
            position: 'left',
            min: yMin,
            max: yMax,
            border,
            grid,
            afterBuildTicks: (s: any) => {
              s.ticks = yTicks.map((v) => ({ value: v }));
            },
            afterFit: (s: any) => {
              s.width = Y_AXIS_W;
            },
            ticks: { font: tickFont, color: TEXT_COLOR, padding: 9.5, autoSkip: false },
          },
          yRight: {
            type: 'linear',
            position: 'right',
            min: yMin,
            max: yMax,
            border,
            grid,
            afterBuildTicks: (s: any) => {
              s.ticks = yTicks.map((v) => ({ value: v }));
            },
            afterFit: (s: any) => {
              s.width = 0;
            },
            ticks: { display: false },
          },
        },
      },
      plugins: [labelPlugin],
    } as any);

    return () => chart.destroy();
  }, [cfg]);

  return (
    <canvas
      ref={ref}
      width={cWidth}
      height={cHeight}
      style={{ position: 'absolute', left: cLeft, top: cTop, width: cWidth, height: cHeight }}
    />
  );
}

export default function App() {
  return (
    <div
      style={{
        position: 'absolute',
        left: 0,
        top: 0,
        width: 1730,
        height: 768,
        overflow: 'hidden',
        background: '#ffffff',
      }}
    >
      {PANELS.map((p, i) => (
        <Panel key={i} cfg={p} />
      ))}
    </div>
  );
}
